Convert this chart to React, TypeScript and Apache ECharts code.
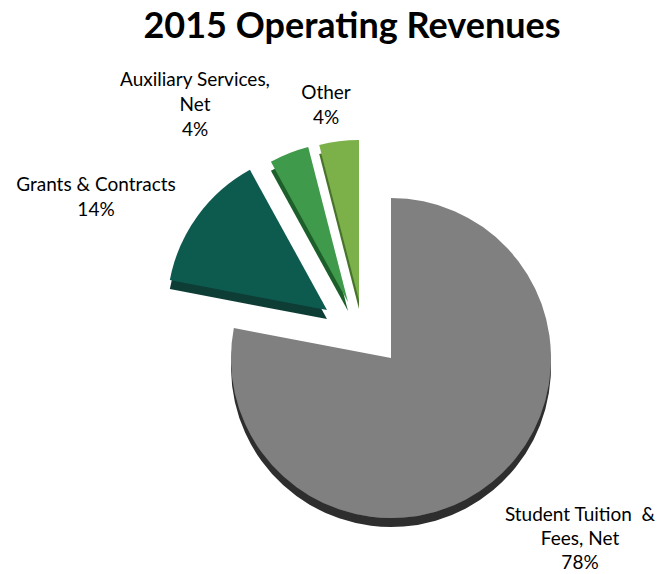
import React, { useEffect, useRef } from "react";
import * as echarts from "echarts";

const categories = [
  "Student Tuition & Fees, Net",
  "Grants & Contracts",
  "Auxiliary Services, Net",
  "Other",
];
const values = [78, 14, 4, 4];
const labelTexts = [
  "Student Tuition  &\nFees, Net",
  "Grants & Contracts",
  "Auxiliary Services,\nNet",
  "Other",
];

const topColors = ["#808080", "#105A50", "#409A4C", "#7BB14A"];
const sideColors = ["#2E2E2E", "#0A3C34", "#1E5E2C", "#47732C"];
// pixel centres of each exploded piece
const pieceCenters: [number, number][] = [
  [391, 358],
  [327, 310],
  [348, 302],
  [359, 300],
];
const labelPos: [number, number][] = [
  [580, 537],
  [96, 196],
  [195, 103],
  [326, 104],
];
const labelLineHeights = [24, 25, 25, 25];

export default function App() {
  const ref = useRef<HTMLDivElement>(null);
  useEffect(() => {
    document.body.style.margin = "0";
    if (!ref.current) return;
    const chart = echarts.init(ref.current, undefined, { renderer: "svg" });
    const series = categories.map((_, k) => ({
      type: "pie",
      silent: true,
      center: pieceCenters[k],
      radius: 160,
      startAngle: 90,
      clockwise: true,
      avoidLabelOverlap: false,
      percentPrecision: 0,
      z: 2 + (k === 0 ? 0 : 1),
      labelLine: { show: false },
      labelLayout: (p: any) => ({
        x: labelPos[p.dataIndex][0],
        y: labelPos[p.dataIndex][1],
        align: "center",
        verticalAlign: "middle",
      }),
      data: categories.map((name, i) => ({
        name,
        value: values[i],
        itemStyle:
          i === k
            ? {
                color: topColors[i],
                borderWidth: 0,
                shadowColor: sideColors[i],
                shadowOffsetY: 9,
                shadowOffsetX: 0,
                shadowBlur: 0,
              }
            : { color: "rgba(0,0,0,0)", borderWidth: 0 },
        label: {
          show: i === k,
          position: "outside",
          formatter: (p: any) => `${labelTexts[p.dataIndex]}\n${p.percent}%`,
          fontFamily: "Lato",
          fontSize: 19,
          lineHeight: labelLineHeights[i],
          color: "#000",
          align: "center",
        },
      })),
    }));
    chart.setOption({
      animation: false,
      backgroundColor: "#ffffff",
      title: {
        text: "2015 Operating Revenues",
        left: 347,
        textAlign: "center",
        top: 1,
        textStyle: {
          fontFamily: "Lato",
          fontWeight: "bold",
          fontSize: 36,
          color: "#000",
        },
      },
      series,
    });
    return () => chart.dispose();
  }, []);
  return <div ref={ref} style={{ width: 661, height: 574 }} />;
}
